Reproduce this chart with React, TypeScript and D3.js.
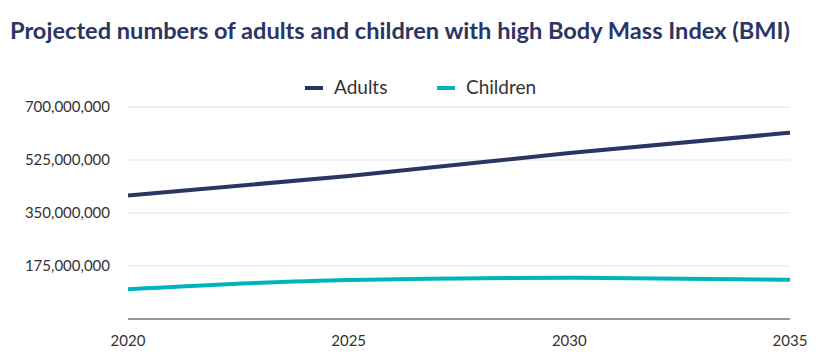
import { useEffect, useRef } from "react";
import * as d3 from "d3";

const years = [2020, 2025, 2030, 2035];
const adults = [408000000, 472000000, 548000000, 615000000];
const children = [98000000, 129000000, 136000000, 130000000];
const yTicks = [0, 175000000, 350000000, 525000000, 700000000];

const seriesNames = ["Adults", "Children"];
const seriesColors = ["#2b3565", "#00b3bc"];

const App = () => {
  const svgRef = useRef<SVGSVGElement>(null);

  useEffect(() => {
    const w = 831;
    const h = 363;
    const m = { left: 128, right: 41, top: 107, bottom: 44 };
    const svg = d3.select(svgRef.current).attr("width", w).attr("height", h);
    svg.selectAll("*").remove();

    const font = "Lato, 'Open Sans', sans-serif";

    const x = d3.scaleLinear().domain([2020, 2035]).range([m.left, w - m.right]);
    const y = d3.scaleLinear().domain([0, 700000000]).range([h - m.bottom, m.top]);

    svg
      .append("text")
      .attr("x", 10)
      .attr("y", 39)
      .attr("fill", "#2b3565")
      .attr("font-family", font)
      .attr("font-weight", 700)
      .attr("font-size", 23.6)
      .text("Projected numbers of adults and children with high Body Mass Index (BMI)");

    // gridlines
    svg
      .append("g")
      .selectAll("line")
      .data(yTicks.slice(1))
      .join("line")
      .attr("x1", m.left)
      .attr("x2", w - m.right)
      .attr("y1", (d) => y(d))
      .attr("y2", (d) => y(d))
      .attr("stroke", "#e2e2e2")
      .attr("stroke-width", 1);

    svg
      .append("g")
      .selectAll("text")
      .data(yTicks.slice(1))
      .join("text")
      .attr("x", 110)
      .attr("y", (d) => y(d) + 5)
      .attr("text-anchor", "end")
      .attr("fill", "#333")
      .attr("font-family", font)
      .attr("font-size", 15)
      .text((d) => d3.format(",")(d));

    // baseline
    svg
      .append("line")
      .attr("x1", m.left)
      .attr("x2", w - m.right)
      .attr("y1", y(0))
      .attr("y2", y(0))
      .attr("stroke", "#333")
      .attr("stroke-width", 1.2);

    svg
      .append("g")
      .selectAll("text")
      .data(years)
      .join("text")
      .attr("x", (d) => x(d))
      .attr("y", y(0) + 27)
      .attr("text-anchor", "middle")
      .attr("fill", "#333")
      .attr("font-family", font)
      .attr("font-size", 15)
      .text((d) => d);

    const line = d3
      .line<number>()
      .x((d, i) => x(years[i]))
      .y((d) => y(d))
      .curve(d3.curveMonotoneX);

    [adults, children].forEach((s, i) => {
      svg
        .append("path")
        .attr("d", line(s))
        .attr("fill", "none")
        .attr("stroke", seriesColors[i])
        .attr("stroke-width", 4)
        .attr("stroke-linecap", "butt");
    });

    // legend
    const legendX = [305, 437];
    seriesNames.forEach((name, i) => {
      const g = svg.append("g").attr("transform", `translate(${legendX[i]},88)`);
      g.append("line")
        .attr("x1", 0)
        .attr("x2", 18)
        .attr("stroke", seriesColors[i])
        .attr("stroke-width", 4);
      g.append("text")
        .attr("x", 29)
        .attr("y", 6)
        .attr("fill", "#333")
        .attr("font-family", font)
        .attr("font-size", 19)
        .text(name);
    });
  }, []);

  return <svg ref={svgRef} style={{ display: "block", position: "absolute", left: 0, top: 0 }}></svg>;
};

export default App;
